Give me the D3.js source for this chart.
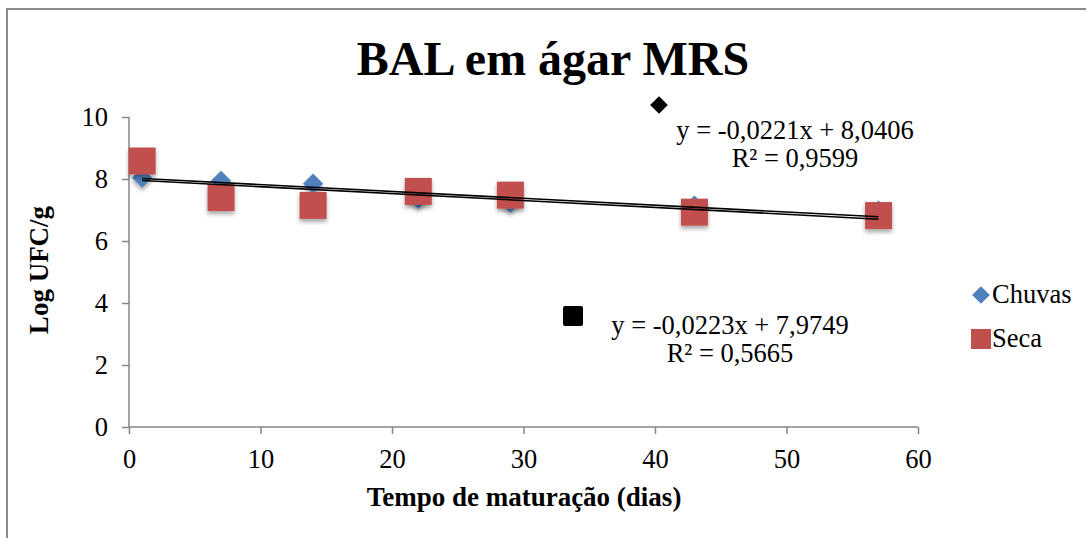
<!DOCTYPE html>
<html>
<head>
<meta charset="utf-8">
<script src="https://cdn.jsdelivr.net/npm/d3@7"></script>
<style>
  body { margin: 0; background: #fff; }
  svg { display: block; font-family: "Liberation Serif", "Times New Roman", serif; }
</style>
</head>
<body>
<div id="chart"></div>
<script>
// days of maturation
const dias = [1, 7, 14, 22, 29, 43, 57];
const chuvas = [8.04, 7.94, 7.85, 7.36, 7.23, 7.14, 6.98];
const seca = [8.58, 7.40, 7.15, 7.60, 7.48, 6.93, 6.82];

// trendlines shown on the chart
const trendChuvas = { slope: -0.0221, intercept: 8.0406, eq: 'y = -0,0221x + 8,0406', r2: 'R² = 0,9599' };
const trendSeca = { slope: -0.0223, intercept: 7.9749, eq: 'y = -0,0223x + 7,9749', r2: 'R² = 0,5665' };

const xTicks = [0, 10, 20, 30, 40, 50, 60];
const yTicks = [0, 2, 4, 6, 8, 10];

const width = 1086;
const height = 538;
const blue = '#4F81BD';
const red = '#C0504D';
const axisGrey = '#868686';
const fontSize = '26.5px';

const svg = d3.select('#chart')
  .append('svg')
  .attr('width', width)
  .attr('height', height);

const defs = svg.append('defs');
const shadow = defs.append('filter')
  .attr('id', 'shadow')
  .attr('x', '-50%').attr('y', '-50%')
  .attr('width', '200%').attr('height', '200%');
shadow.append('feDropShadow')
  .attr('dx', 0).attr('dy', 3)
  .attr('stdDeviation', 2)
  .attr('flood-color', '#000')
  .attr('flood-opacity', 0.35);

// outer frame of the chart area (runs off right/bottom edge)
svg.append('rect')
  .attr('x', 7).attr('y', 9)
  .attr('width', width + 20).attr('height', height + 20)
  .attr('fill', 'none')
  .attr('stroke', '#8a8a8a')
  .attr('stroke-width', 2);

const x = d3.scaleLinear().domain([0, 60]).range([129, 918]);
const y = d3.scaleLinear().domain([0, 10]).range([427, 117]);

// axes
const xAxis = svg.append('g')
  .attr('transform', `translate(0,${y(0)})`)
  .call(d3.axisBottom(x).tickValues(xTicks).tickSize(7).tickPadding(15));
const yAxis = svg.append('g')
  .attr('transform', `translate(${x(0)},0)`)
  .call(d3.axisLeft(y).tickValues(yTicks).tickSize(7).tickPadding(14));

[xAxis, yAxis].forEach(g => {
  g.attr('font-family', null).attr('font-size', null);
  g.select('.domain').attr('stroke', axisGrey).attr('stroke-width', 1.5);
  g.selectAll('.tick line').attr('stroke', axisGrey).attr('stroke-width', 1.5);
  g.selectAll('.tick text')
    .attr('fill', '#000')
    .style('font-size', fontSize);
});
// domain path has end ticks - redraw as plain line
xAxis.select('.domain').attr('d', `M${x(0)},0H${x(60)}`);
yAxis.select('.domain').attr('d', `M0,${y(10)}V${y(0)}`);

// markers
const diamond = d3.symbol().type(d3.symbolDiamond2).size(260);
const pts = dias.map((d, i) => ({ d, c: chuvas[i], s: seca[i] }));

svg.append('g')
  .selectAll('path')
  .data(pts)
  .enter()
  .append('path')
  .attr('d', diamond)
  .attr('transform', p => `translate(${x(p.d)},${y(p.c)})`)
  .attr('fill', blue)
  .attr('filter', 'url(#shadow)');

const sq = 27;
svg.append('g')
  .selectAll('rect')
  .data(pts)
  .enter()
  .append('rect')
  .attr('x', p => x(p.d) - sq / 2)
  .attr('y', p => y(p.s) - sq / 2)
  .attr('width', sq)
  .attr('height', sq)
  .attr('fill', red)
  .attr('filter', 'url(#shadow)');

// trendlines
[trendChuvas, trendSeca].forEach(t => {
  const x0 = dias[0], x1 = dias[dias.length - 1];
  svg.append('line')
    .attr('x1', x(x0)).attr('y1', y(t.slope * x0 + t.intercept))
    .attr('x2', x(x1)).attr('y2', y(t.slope * x1 + t.intercept))
    .attr('stroke', '#000')
    .attr('stroke-width', 1.6);
});

// equation labels
function eqLabel(t, cx, by, markerType, mx, my) {
  svg.append('text')
    .attr('x', cx).attr('y', by)
    .attr('text-anchor', 'middle')
    .style('font-size', fontSize)
    .text(t.eq);
  svg.append('text')
    .attr('x', cx).attr('y', by + 28)
    .attr('text-anchor', 'middle')
    .style('font-size', fontSize)
    .text(t.r2);
  if (markerType === 'diamond') {
    svg.append('path')
      .attr('d', d3.symbol().type(d3.symbolDiamond2).size(200))
      .attr('transform', `translate(${mx},${my})`)
      .attr('fill', '#000');
  } else {
    svg.append('rect')
      .attr('x', mx - 10).attr('y', my - 10)
      .attr('width', 20).attr('height', 20)
      .attr('rx', 2)
      .attr('fill', '#000');
  }
}
eqLabel(trendChuvas, 795, 139, 'diamond', 659, 105);
eqLabel(trendSeca, 730, 334, 'square', 573, 316);

// title
svg.append('text')
  .attr('x', 553).attr('y', 75)
  .attr('text-anchor', 'middle')
  .style('font-size', '48px')
  .style('font-weight', 'bold')
  .text('BAL em ágar MRS');

// axis titles
svg.append('text')
  .attr('transform', 'translate(48,270) rotate(-90)')
  .attr('text-anchor', 'middle')
  .style('font-size', '27px')
  .style('font-weight', 'bold')
  .text('Log UFC/g');

svg.append('text')
  .attr('x', 524).attr('y', 506)
  .attr('text-anchor', 'middle')
  .style('font-size', '27px')
  .style('font-weight', 'bold')
  .text('Tempo de maturação (dias)');

// legend
const legend = svg.append('g');
legend.append('path')
  .attr('d', d3.symbol().type(d3.symbolDiamond2).size(200))
  .attr('transform', 'translate(981,295)')
  .attr('fill', blue);
legend.append('text')
  .attr('x', 992).attr('y', 303)
  .style('font-size', fontSize)
  .text('Chuvas');
legend.append('rect')
  .attr('x', 971).attr('y', 329)
  .attr('width', 20).attr('height', 20)
  .attr('fill', red);
legend.append('text')
  .attr('x', 992).attr('y', 347)
  .style('font-size', fontSize)
  .text('Seca');
</script>
</body>
</html>
